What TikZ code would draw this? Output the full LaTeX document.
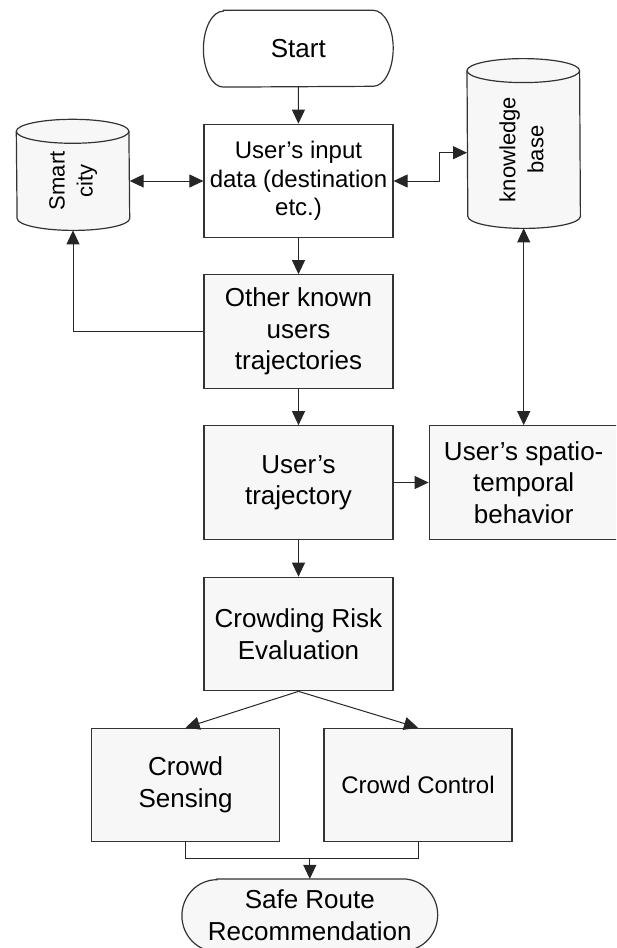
\documentclass[tikz,border=0pt]{standalone}
\usepackage{fontspec}
\setmainfont{Liberation Sans}
\usepackage{graphicx}
\usetikzlibrary{arrows.meta,backgrounds}
\definecolor{boxfill}{HTML}{F7F7F7}
\tikzset{
  process/.style={draw=black!80,fill=boxfill,line width=0.6pt,minimum width=94.5pt,minimum height=56.75pt,
                  align=center,inner sep=1pt,font=\fontsize{13}{15.75}\selectfont},
  smalltext/.style={font=\fontsize{12}{14.25}\selectfont},
  terminal/.style={minimum width=94.5pt,minimum height=38pt,align=center,inner sep=1pt,
                   font=\fontsize{13}{15.75}\selectfont},
  outline/.style={draw=black!80,line width=0.6pt},
  store/.style={minimum width=56.3pt,align=center,inner sep=0pt,font=\fontsize{11}{14}\selectfont},
  flow/.style={draw=black!85,line width=0.5pt,-{Triangle[length=7pt,width=6.5pt]}},
  twoway/.style={draw=black!85,line width=0.5pt,{Triangle[length=7pt,width=6.5pt]}-{Triangle[length=7pt,width=6.5pt]}},
}

\begin{document}
\begin{tikzpicture}[x=0.5pt,y=0.5pt]
  \useasboundingbox (0,0) rectangle (616,-948);
  \clip (0,0) rectangle (616,-948);

  % start / end
  \node[terminal] (start) at (298.3,-48.7) {Start};
  \node[terminal,minimum width=127.5pt,minimum height=36pt] (safe) at (309.8,-915.3) {Safe Route\\Recommendation};

  % data stores
  \node[store,minimum height=49.15pt] (city) at (73,-180.85)
    {\rotatebox{90}{\begin{tabular}{@{}c@{}}Smart\\city\end{tabular}}};
  \node[store,minimum height=78.5pt] (kb) at (523.7,-149.5)
    {\rotatebox{90}{\begin{tabular}{@{}c@{}}knowledge\\base\end{tabular}}};

  % processing steps
  \node[process,fill=white,smalltext] (input) at (298.5,-181) {User’s input\\data (destination\\etc.)};
  \node[process] (other) at (298.5,-331.5) {Other known\\users\\trajectories};
  \node[process] (traj) at (298.5,-482.5) {User’s\\trajectory};
  \node[process] (spatio) at (523.7,-482.5) {User’s spatio-\\temporal\\behavior};
  \node[process] (crowding) at (298.5,-634) {Crowding Risk\\Evaluation};
  \node[process,minimum width=94pt] (sense) at (185.6,-785) {Crowd\\Sensing};
  \node[process,minimum width=94pt,smalltext] (control) at (418,-785) {Crowd Control};

  % outlines of the rounded ends and the cylinders
  \begin{scope}[on background layer]
    \draw[outline,fill=white] ([xshift=10pt]start.north west) -- ([xshift=-10pt]start.north east)
      arc[start angle=90,end angle=-90,x radius=20,y radius=38] -- ([xshift=10pt]start.south west)
      arc[start angle=270,end angle=90,x radius=20,y radius=38] -- cycle;
    \draw[outline,fill=boxfill] ([xshift=17.5pt]safe.north west) -- ([xshift=-17.5pt]safe.north east)
      arc[start angle=90,end angle=-90,x radius=35,y radius=36] -- ([xshift=17.5pt]safe.south west)
      arc[start angle=270,end angle=90,x radius=35,y radius=36] -- cycle;
    \draw[outline,fill=boxfill] (city.north west) arc[start angle=180,end angle=0,x radius=56.3,y radius=12]
      -- ([yshift=6pt]city.south east) arc[start angle=0,end angle=-180,x radius=56.3,y radius=12] -- cycle;
    \draw[outline] (city.north west) arc[start angle=180,end angle=360,x radius=56.3,y radius=12];
    \draw[outline,fill=boxfill] (kb.north west) arc[start angle=180,end angle=0,x radius=56.3,y radius=12]
      -- ([yshift=6pt]kb.south east) arc[start angle=0,end angle=-180,x radius=56.3,y radius=12] -- cycle;
    \draw[outline] (kb.north west) arc[start angle=180,end angle=360,x radius=56.3,y radius=12];
  \end{scope}

  % connectors
  \draw[flow] (start) -- (input);
  \draw[flow] (input) -- (other);
  \draw[flow] (other) -- (traj);
  \draw[flow] (traj) -- (crowding);
  \draw[flow] (traj) -- (spatio);
  \draw[twoway] (city.east |- input.west) -- (input.west);
  \draw[twoway] (input.east) -- ++(46,0) |- ([yshift=-1.6pt]kb.west);
  \draw[flow] (other.west) -| (city.south);
  \draw[twoway] (kb.south) -- (spatio.north);
  \draw[flow] (crowding.south) -- (sense.north);
  \draw[flow] (crowding.south) -- (control.north);
  \coordinate (merge) at ([yshift=10pt]safe.north);
  \draw[draw=black!85,line width=0.5pt] (sense.south) |- (merge) -| (control.south);
  \draw[flow] (merge) -- (safe.north);
\end{tikzpicture}
\end{document}
